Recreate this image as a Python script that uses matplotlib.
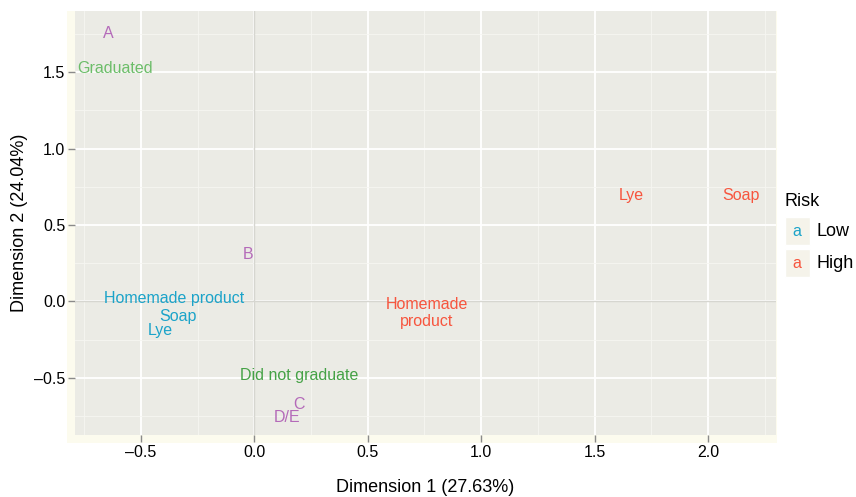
import matplotlib
matplotlib.use("Agg")
import matplotlib.pyplot as plt
from matplotlib.patches import Rectangle
from matplotlib.ticker import FixedLocator

plt.rcParams['font.family'] = ['Liberation Sans', 'DejaVu Sans']

# ---- data ----
labels = ["A", "Graduated", "B", "Homemade product", "Soap", "Lye",
          "Did not graduate", "C", "D/E", "Homemade\nproduct", "Lye", "Soap"]
dim1 = [-0.645, -0.615, -0.026, -0.355, -0.335, -0.414,
        0.198, 0.198, 0.145, 0.76, 1.663, 2.145]
dim2 = [1.755, 1.52, 0.307, 0.02, -0.100, -0.188,
        -0.484, -0.673, -0.758, -0.078, 0.693, 0.693]
groups = ["grade", "edu", "grade", "Low", "Low", "Low",
          "edu2", "grade", "grade", "High", "High", "High"]
group_colors = {"grade": "#B46AB9", "edu": "#6CBD69", "edu2": "#45A246",
                "Low": "#1BA3C9", "High": "#F7553E"}
legend_levels = ["Low", "High"]
xticks = [-0.5, 0.0, 0.5, 1.0, 1.5, 2.0]
yticks = [-0.5, 0.0, 0.5, 1.0, 1.5]

fig = plt.figure(figsize=(8.56, 4.97), dpi=100)
W, H = 856, 497

# cream strip behind panel (left and bottom)
fig.patches.append(Rectangle((67 / W, 1 - 443 / H), (777 - 67) / W, (443 - 11) / H,
                             transform=fig.transFigure, facecolor="#FCFBEE",
                             edgecolor="none", zorder=-5))

ax = fig.add_axes([75 / W, 1 - 435 / H, (776 - 75) / W, (435 - 11) / H])
ax.set_zorder(2)
ax.set_facecolor("#EBEBE5")
for s in ax.spines.values():
    s.set_visible(False)

ax.set_xlim(-0.791, 2.30)
ax.set_ylim(-0.873, 1.899)

ax.xaxis.set_major_locator(FixedLocator(xticks))
ax.yaxis.set_major_locator(FixedLocator(yticks))
ax.xaxis.set_minor_locator(FixedLocator([-0.75, -0.25, 0.25, 0.75, 1.25, 1.75, 2.25]))
ax.yaxis.set_minor_locator(FixedLocator([-0.75, -0.25, 0.25, 0.75, 1.25, 1.75]))
ax.set_xticklabels([("\u2013" + f"{abs(t):.1f}") if t < 0 else f"{t:.1f}" for t in xticks])
ax.set_yticklabels([("\u2013" + f"{abs(t):.1f}") if t < 0 else f"{t:.1f}" for t in yticks])

ax.grid(which="major", color="white", linewidth=1.3, zorder=0)
ax.grid(which="minor", color="#F6F6F2", linewidth=0.6, zorder=0)
ax.set_axisbelow(True)
ax.tick_params(which="major", length=5, width=1, color="#8A8A8A",
               labelsize=11.5, labelcolor="black", pad=2)
ax.tick_params(which="minor", length=0)

ax.axhline(0, color="#D6D6D0", linewidth=1, zorder=1)
ax.axvline(0, color="#D6D6D0", linewidth=1, zorder=1)

for lab, x, y, g in zip(labels, dim1, dim2, groups):
    ax.text(x, y, lab, ha="center", va="center", multialignment="center",
            color=group_colors[g], fontsize=11.5, zorder=3, linespacing=1.15)

ax.set_xlabel("Dimension 1 (27.63%)", fontsize=13, labelpad=14)
ax.set_ylabel("Dimension 2 (24.04%)", fontsize=13)
ax.yaxis.set_label_coords((28 - 75) / (776 - 75), 0.5)

# legend
fig.text(784 / W, 1 - 202 / H, "Risk", fontsize=13, va="center", ha="left")
for i, lev in enumerate(legend_levels):
    yc = 231 + i * 32
    fig.patches.append(Rectangle((785 / W, 1 - (yc + 14) / H), 25 / W, 28 / H,
                                 transform=fig.transFigure, facecolor="#F5F3EA",
                                 edgecolor="white", linewidth=1, zorder=1))
    fig.text(797 / W, 1 - yc / H, "a", color=group_colors[lev], fontsize=11.5,
             ha="center", va="center")
    fig.text(817 / W, 1 - yc / H, lev, fontsize=13, ha="left", va="center")

fig.savefig("out.png", dpi=100, facecolor="white")
